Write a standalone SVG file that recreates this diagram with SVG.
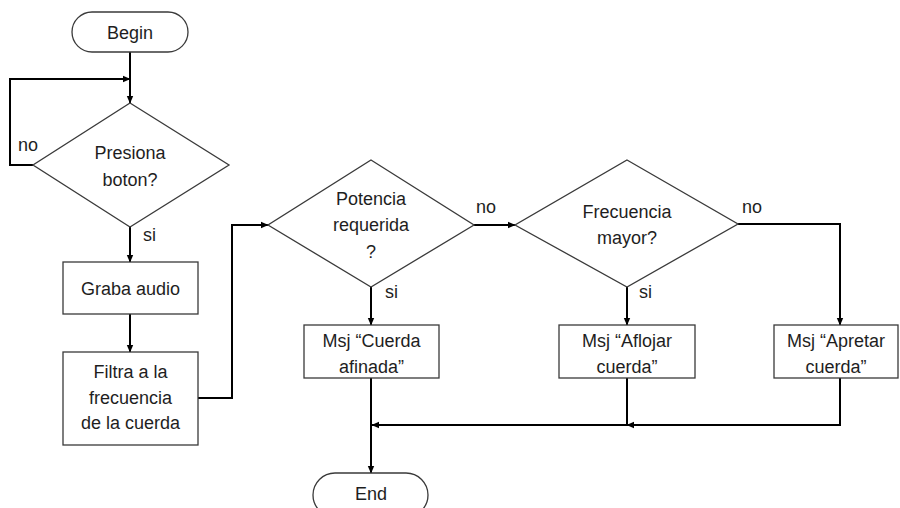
<svg xmlns="http://www.w3.org/2000/svg" width="900" height="508" viewBox="0 0 900 508">
<defs>
<marker id="ah" markerUnits="userSpaceOnUse" markerWidth="8" markerHeight="8" viewBox="0 0 8 8" refX="7" refY="4" orient="auto">
<path d="M0,0.8 L7.5,4 L0,7.2 Z" fill="#000"/>
</marker>
<style>
.shape{fill:#fff;stroke:#3a3a3a;stroke-width:1.3}
.t{font-family:"Liberation Sans",Arial,sans-serif;font-size:18px;fill:#1e1e1e;text-anchor:middle}
.l{font-family:"Liberation Sans",Arial,sans-serif;font-size:18px;fill:#1e1e1e}
.c{fill:none;stroke:#000;stroke-width:2}
.ca{fill:none;stroke:#000;stroke-width:2;marker-end:url(#ah)}
</style>
</defs>
<rect width="900" height="508" fill="#fff"/>

<g id="connectors">
<path class="ca" d="M130,52 V103"/>
<path class="ca" d="M33,165 H10 V79 H130"/>
<path class="ca" d="M130,227 V262"/>
<path class="ca" d="M130,314 V352"/>
<path class="ca" d="M198,398 H232 V225 H268"/>
<path class="ca" d="M474,225 H515"/>
<path class="ca" d="M371,287 V325"/>
<path class="ca" d="M738,224 H840 V325"/>
<path class="ca" d="M627,287 V325"/>
<path class="ca" d="M371,378 V473"/>
<path class="ca" d="M627,378 V425 H372"/>
<path class="ca" d="M840,378 V425 H627"/>
</g>

<g id="begin">
<rect class="shape" x="72" y="12" width="116" height="40" rx="20"/>
<text class="t" x="130" y="38.5">Begin</text>
</g>

<g id="presiona">
<polygon class="shape" points="130,103 229,165 130,227 33,165"/>
<text class="t" x="130" y="159">Presiona</text>
<text class="t" x="130" y="186">boton?</text>
</g>

<g id="graba">
<rect class="shape" x="63" y="262" width="135" height="52"/>
<text class="t" x="130.5" y="295">Graba audio</text>
</g>

<g id="filtra">
<rect class="shape" x="63" y="352" width="135" height="93"/>
<text class="t" x="130.5" y="378">Filtra a la</text>
<text class="t" x="130.5" y="404">frecuencia</text>
<text class="t" x="130.5" y="429">de la cuerda</text>
</g>

<g id="potencia">
<polygon class="shape" points="371,160 474,225 371,287 268,225"/>
<text class="t" x="371" y="205">Potencia</text>
<text class="t" x="371" y="231">requerida</text>
<text class="t" x="371" y="258">?</text>
</g>

<g id="frecuencia">
<polygon class="shape" points="627,160 738,224 627,287 515,225"/>
<text class="t" x="627" y="218">Frecuencia</text>
<text class="t" x="627" y="244">mayor?</text>
</g>

<g id="cuerda">
<rect class="shape" x="304" y="325" width="135" height="53"/>
<text class="t" x="371.5" y="346.5">Msj “Cuerda</text>
<text class="t" x="371.5" y="372.5">afinada”</text>
</g>

<g id="aflojar">
<rect class="shape" x="559" y="325" width="136" height="53"/>
<text class="t" x="627" y="346.5">Msj “Aflojar</text>
<text class="t" x="627" y="372.5">cuerda”</text>
</g>

<g id="apretar">
<rect class="shape" x="774" y="325" width="124" height="53"/>
<text class="t" x="836" y="346.5">Msj “Apretar</text>
<text class="t" x="836" y="372.5">cuerda”</text>
</g>

<g id="end">
<rect class="shape" x="313" y="473" width="115" height="44" rx="22"/>
<text class="t" x="371" y="500">End</text>
</g>

<g id="labels">
<text class="l" x="18" y="151">no</text>
<text class="l" x="143" y="241">si</text>
<text class="l" x="476" y="213">no</text>
<text class="l" x="385" y="298">si</text>
<text class="l" x="742" y="213">no</text>
<text class="l" x="639" y="298">si</text>
</g>
</svg>
